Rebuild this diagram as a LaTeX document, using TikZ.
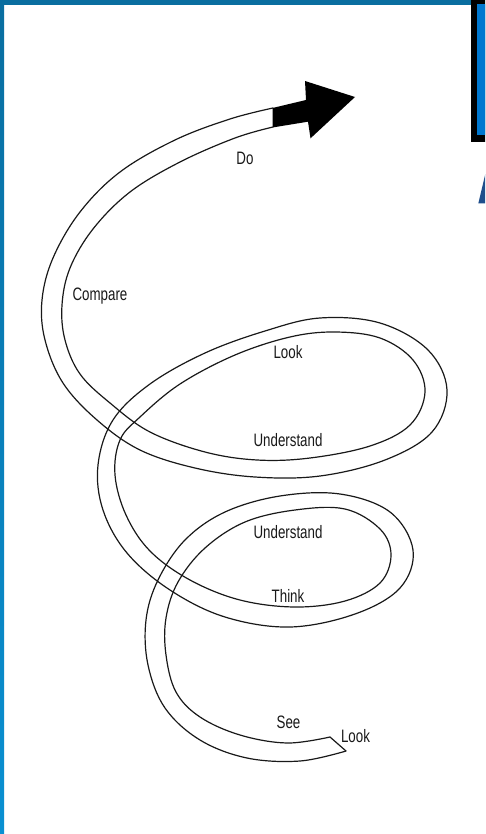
\documentclass[tikz,border=0pt]{standalone}
\usepackage{fontspec}
\newfontfamily\labfont[FakeStretch=0.74]{Liberation Sans}
\definecolor{barblue}{HTML}{0A6EA0}
\definecolor{barblueb}{HTML}{0A90D2}
\definecolor{boxblue}{HTML}{0078D0}
\definecolor{titleblue}{HTML}{1F4E8C}
\begin{document}
\begin{tikzpicture}[x=1pt,y=-1pt,
  tubeedge/.style={line width=1.2pt, draw=black!90, line join=round, line cap=round},
  lbl/.style={font=\labfont\fontsize{18}{20}\selectfont, text=black!90, anchor=base, inner sep=0pt}]
\useasboundingbox (0,0) rectangle (485,834);
\fill[white] (0,0) rectangle (485,834);
\clip (0,0) rectangle (485,834);
% frame
\fill[barblue] (0,0) rectangle (471,5.5);
\shade[top color=barblue, bottom color=barblueb] (0,0) rectangle (4,834);
\fill[black] (470.5,0) rectangle (486,142);
\fill[boxblue] (476.5,4) rectangle (486,135.5);
\fill[titleblue] (478.3,203.5) -- (486,203.5) -- (486,171) -- cycle;
% tube outer edge
\draw[tubeedge] plot[smooth, tension=0.6] coordinates {
(346,751) (300,761) (247,758) (200,740) (165,708) (148,665) (146,620) (158,580)
(185,540) (225,512) (280,496) (340,494) (390,512) (413,550) (400,588) (355,614)
(290,627) (225,617) (170,590) (127,553) (103,510) (98,465) (113,420) (150,384)
(205,353) (265,331) (320,318) (380,323) (428,350) (447,390) (432,432) (385,460)
(320,476) (255,477) (195,468) (140,450) (97,420) (63,383) (45,340) (42,300)
(53,258) (80,212) (120,172) (175,140) (230,119) (273,108)};
% tube inner edge
\draw[tubeedge] plot[smooth, tension=0.6] coordinates {
(330,737) (287,743) (240,735) (200,717) (176,692) (166,655) (166,618) (178,582)
(205,548) (245,522) (295,510) (345,509) (380,529) (391,555) (380,583) (345,601)
(295,607) (240,600) (190,580) (150,551) (126,515) (115,475) (120,440) (140,417)
(180,384) (235,355) (290,337) (335,332) (380,338) (413,360) (425,392) (410,425)
(370,446) (310,458) (257,460) (205,452) (150,432) (110,403) (80,374) (65,340)
(62,305) (70,268) (93,229) (130,192) (180,162) (235,138) (273,127)};
% cut end
\coordinate (endA) at (346,751);
\coordinate (endB) at (330,737);
\draw[tubeedge] (endB) -- (endA);
% arrow head
\fill[black] (272.5,108) -- (306,100) -- (305,81) -- (355,97) -- (310.5,138.3) -- (308,121.7) -- (272.5,127.5) -- cycle;
% labels
\node[lbl] (do) at (245,165) {Do};
\node[lbl] (compare) at (100,300.5) {Compare};
\node[lbl] (look1) at (288,358) {Look};
\node[lbl] (und1) at (288,446) {Understand};
\node[lbl] (und2) at (288,538) {Understand};
\node[lbl] (think) at (288,602) {Think};
\node[lbl] (see) at (288.5,728) {See};
\node[lbl] (look2) at (355.5,742) {Look};
\end{tikzpicture}
\end{document}
